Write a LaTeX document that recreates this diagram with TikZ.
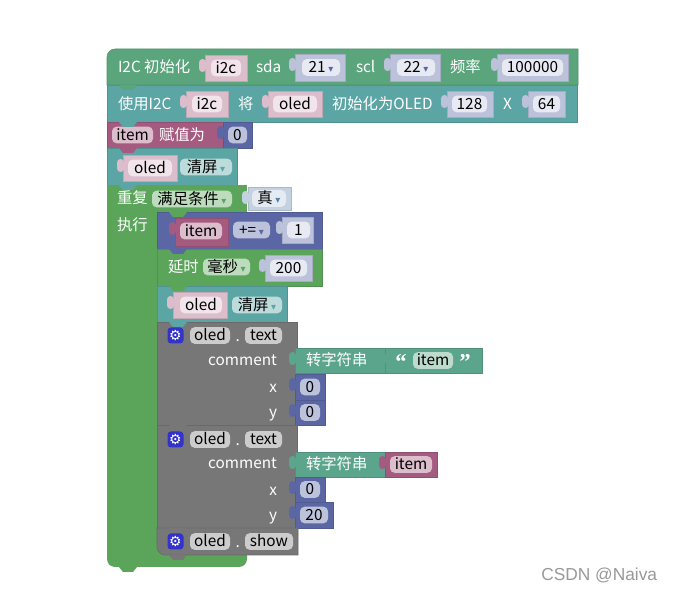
\documentclass[tikz,border=0pt]{standalone}
\usepackage{fontspec}
\setmainfont{Liberation Sans}
\newfontfamily\cjk{Noto Sans CJK SC}
\newfontfamily\dv{DejaVu Sans}
\newfontfamily\lsb{Liberation Serif Bold}
\definecolor{cI2C}{RGB}{91,165,125}
\definecolor{cTeal}{RGB}{91,165,165}
\definecolor{cVar}{RGB}{165,91,128}
\definecolor{cMath}{RGB}{91,103,165}
\definecolor{cLoop}{RGB}{91,165,91}
\definecolor{cText}{RGB}{91,165,140}
\definecolor{cGray}{RGB}{119,119,119}
\definecolor{cLogic}{RGB}{91,128,165}
\definecolor{sPink}{RGB}{219,189,204}
\definecolor{fPink}{RGB}{241,228,235}
\definecolor{sLav}{RGB}{189,194,219}
\definecolor{fLav}{RGB}{231,233,243}
\definecolor{fTeal}{RGB}{189,219,219}
\definecolor{fGreen}{RGB}{189,219,189}
\definecolor{sLogic}{RGB}{196,209,222}
\definecolor{fLogic}{RGB}{229,235,242}
\definecolor{fGray}{RGB}{204,204,204}
\definecolor{fText}{RGB}{189,219,205}
\definecolor{cGear}{RGB}{51,51,204}
\definecolor{wmark}{RGB}{153,153,153}
\newcommand\bfont{\cjk\fontsize{11.5}{13}\selectfont}
\newcommand\qfont{\lsb\fontsize{17}{17}\selectfont}
\newcommand\dd[1]{\hspace{2pt}{\dv\fontsize{7.5}{7.5}\selectfont\color{#1}▾}}
\tikzset{
  blk/.style={anchor=north west, inner sep=0pt, outer sep=0pt, fill=#1, draw=#1!88!black, line width=0.4pt},
  fld/.style={rounded corners=3.5pt, inner sep=0pt, outer sep=0pt, minimum height=12.5pt, text=black, font=\bfont, text height=9.4pt, text depth=1.4pt},
  lbl/.style={inner sep=0pt, outer sep=0pt, text=white, font=\bfont, text height=9.4pt, text depth=1.4pt},
  gearbox/.style={fill=cGear, rounded corners=2.5pt, minimum size=12pt, inner sep=0pt, text=white, font=\dv\fontsize{10.5}{10.5}\selectfont},
}
\newcommand\mkblk[6]{\node[blk=#2, minimum width={(#5-#3)*0.75pt}, minimum height={(#6-#4)*0.75pt}] (#1) at (#3,#4) {};}
\newcommand\mkval[6]{\mkblk{#1}{#2}{#3}{#4}{#5}{#6}\fill[#2, rounded corners=2.6pt] ({#3-6},{#4+4}) rectangle ({#3+1},{#4+17});}
\newcommand\mkfld[6]{\node[fld, fill=#2, minimum width={(#5)*0.75pt}] (#1) at (#3,#4) {#6};}
\newcommand\mklbl[4]{\node[lbl, anchor=west] (#1) at (#2,#3) {#4};}
\newcommand\mknotch[3]{\fill[#1] ({#2+12},#3) -- ({#2+16},{#3+5}) -- ({#2+26},{#3+5}) -- ({#2+30},#3) -- cycle;}
\begin{document}
\begin{tikzpicture}[x=0.75pt,y=-0.75pt]
\useasboundingbox (0,0) rectangle (676,591);
\fill[white] (0,0) rectangle (676,591);

% ---- Block 1: I2C init
\filldraw[fill=cI2C, draw=cI2C!88!black, line width=0.4pt] (107,85) -- (107,57) .. controls (107,52.6) and (110.6,49) .. (115,49) -- (578,49) -- (578,85) -- cycle;
\coordinate (b1) at (107,49);
\mklbl{t1}{118}{67}{I2C 初始化}
\mkval{v1}{sPink}{205}{55}{247}{81}
\mkfld{f1}{fPink}{226}{68}{30}{i2c}
\mklbl{t2}{256}{67}{sda}
\mkval{v2}{sLav}{295}{54}{345}{81}
\mkfld{f2}{fLav}{321}{67.5}{38}{21\dd{cMath}}
\mklbl{t3}{356}{67}{scl}
\mkval{v3}{sLav}{390}{54}{440}{81}
\mkfld{f3}{fLav}{416}{67.5}{38}{22\dd{cMath}}
\mklbl{t4}{450}{67}{频率}
\mkval{v4}{sLav}{497}{54}{568}{81}
\mkfld{f4}{fLav}{532.5}{67.5}{61}{100000}

% ---- Block 2: use I2C
\mkblk{b2}{cTeal}{107}{85}{577}{122}
\mklbl{t5}{118}{104}{使用I2C}
\mkval{v5}{sPink}{186}{91}{228}{117}
\mkfld{f5}{fPink}{207}{104}{30}{i2c}
\mklbl{t6}{238}{104}{将}
\mkval{v6}{sPink}{268}{91}{322}{117}
\mkfld{f6}{fPink}{295}{104}{44}{oled}
\mklbl{t7}{332}{104}{初始化为OLED}
\mkval{v7}{sLav}{447}{91}{493}{117}
\mkfld{f7}{fLav}{469.5}{104}{35}{128}
\mklbl{t8}{503}{104}{X}
\mkval{v8}{sLav}{528}{91}{565}{117}
\mkfld{f8}{fLav}{546.5}{104}{27}{64}

% ---- Block 3: item assign
\mkblk{b3}{cVar}{107}{122}{223}{148}
\mkfld{f9}{sPink}{132.5}{135}{41}{item}
\mklbl{t9}{159}{135}{赋值为}
\mkval{v9}{cMath}{223}{122}{252}{148}
\mkfld{f10}{sLav}{237.5}{135}{19}{0}

% ---- Block 4: oled clear
\mkblk{b4}{cTeal}{107}{148}{237}{185}
\mkval{v10}{sPink}{123}{155}{177}{181}
\mkfld{f11}{fPink}{150}{168}{44}{oled}
\mkfld{f12}{fTeal}{206}{167}{52}{清屏\dd{cTeal}}

% ---- Loop
\fill[cLoop, rounded corners=6pt] (107,540) rectangle (247,567);
\fill[cLoop] (107,185) rectangle (247,212);
\fill[cLoop] (107,200) rectangle (157,560);
\coordinate (loop) at (107,185);
\mklbl{t10}{117}{198}{重复}
\mkfld{f13}{fGreen}{192}{199}{80}{满足条件\dd{cLoop}}
\mkval{v11}{sLogic}{248}{187}{291}{210}
\mkfld{f14}{fLogic}{269}{198.5}{34}{真\dd{cLogic}}
\mklbl{t11}{117}{225}{执行}

% ---- item += 1
\mkblk{b5}{cMath}{157}{212}{322}{249}
\mkval{v12}{cVar}{175}{218}{228}{246}
\mkfld{f15}{sPink}{201}{231}{42}{item}
\mkfld{f16}{sLav}{251.5}{230}{37}{+=\dd{cMath}}
\mkval{v13}{sLav}{282}{217}{313}{243}
\mkfld{f17}{fLav}{298.5}{230}{23}{1}

% ---- delay
\mkblk{b6}{cLoop}{157}{249}{322}{286}
\mklbl{t12}{168}{267}{延时}
\mkfld{f18}{fGreen}{226.5}{267}{47}{毫秒\dd{cLoop}}
\mkval{v14}{sLav}{265}{255}{312}{281}
\mkfld{f19}{fLav}{288.5}{268}{37}{200}

% ---- oled clear (inner)
\mkblk{b7}{cTeal}{157}{286}{287}{322}
\mkval{v15}{sPink}{173}{292}{227}{318}
\mkfld{f20}{fPink}{201}{305}{42}{oled}
\mkfld{f21}{fTeal}{257}{305}{50}{清屏\dd{cTeal}}

% ---- oled.text 1
\mkblk{b8}{cGray}{157}{322}{297}{425}
\node[gearbox] (g1) at (175.5,335.5) {⚙};
\mkfld{f22}{fGray}{210}{335.5}{40}{oled}
\mklbl{d1}{235.5}{336}{.}
\mkfld{f23}{fGray}{263.5}{335.5}{37}{text}
\node[lbl, anchor=east] (c1) at (277,360) {comment};
\node[lbl, anchor=east] (x1) at (277,387) {x};
\node[lbl, anchor=east] (y1) at (277,412) {y};
\mkval{v16}{cText}{295}{348}{385}{373}
\mklbl{t13}{306}{360.5}{转字符串}
\mkval{v17}{cText}{385}{348}{482}{373}
\node[lbl, font=\qfont, text height=11pt] (q1) at (401,363) {“};
\mkfld{f24}{fText}{433}{360.5}{40}{item}
\node[lbl, font=\qfont, text height=11pt] (q2) at (465,363) {”};
\mkval{v18}{cMath}{295}{374}{325}{400}
\mkfld{f25}{sLav}{310}{387}{20}{0}
\mkval{v19}{cMath}{295}{400}{325}{425}
\mkfld{f26}{sLav}{310}{412.5}{20}{0}

% ---- oled.text 2
\mkblk{b9}{cGray}{157}{425}{297}{528}
\node[gearbox] (g2) at (175.5,439.5) {⚙};
\mkfld{f27}{fGray}{210}{439.5}{40}{oled}
\mklbl{d2}{235.5}{440}{.}
\mkfld{f28}{fGray}{263.5}{439.5}{37}{text}
\node[lbl, anchor=east] (c2) at (277,463) {comment};
\node[lbl, anchor=east] (x2) at (277,490) {x};
\node[lbl, anchor=east] (y2) at (277,515) {y};
\mkval{v20}{cText}{295}{452}{385}{477}
\mklbl{t14}{306}{464}{转字符串}
\mkval{v21}{cVar}{385}{452}{437}{477}
\mkfld{f29}{sPink}{411}{464.5}{42}{item}
\mkval{v22}{cMath}{295}{477}{325}{502}
\mkfld{f30}{sLav}{310}{489.5}{20}{0}
\mkval{v23}{cMath}{295}{502}{333}{528}
\mkfld{f31}{sLav}{314}{515}{28}{20}

% ---- oled.show
\filldraw[fill=cGray, draw=cGray!88!black, line width=0.4pt] (157,528) -- (298,528) -- (298,555) -- (165,555) .. controls (160.6,555) and (157,551.4) .. (157,547) -- cycle;
\coordinate (b10) at (157,528);
\node[gearbox] (g3) at (175.5,541.5) {⚙};
\mkfld{f32}{fGray}{210}{541.5}{40}{oled}
\mklbl{d3}{235.5}{542}{.}
\mkfld{f33}{fGray}{269}{541.5}{48}{show}

% ---- statement notches
\mknotch{cI2C}{107}{85}
\mknotch{cTeal}{107}{122}
\mknotch{cVar}{107}{148}
\mknotch{cTeal}{107}{185}
\mknotch{cLoop}{157}{212}
\mknotch{cMath}{157}{249}
\mknotch{cLoop}{157}{286}
\mknotch{cTeal}{157}{322}
\mknotch{cGray}{157}{425}
\mknotch{cGray}{157}{528}
\mknotch{cGray}{157}{555}
\mknotch{cLoop}{107}{567}

% ---- watermark
\node[inner sep=0pt, anchor=west, text=wmark, font=\fontsize{13}{15}\selectfont] (wm) at (541,575) {CSDN @Naiva};
\end{tikzpicture}
\end{document}
